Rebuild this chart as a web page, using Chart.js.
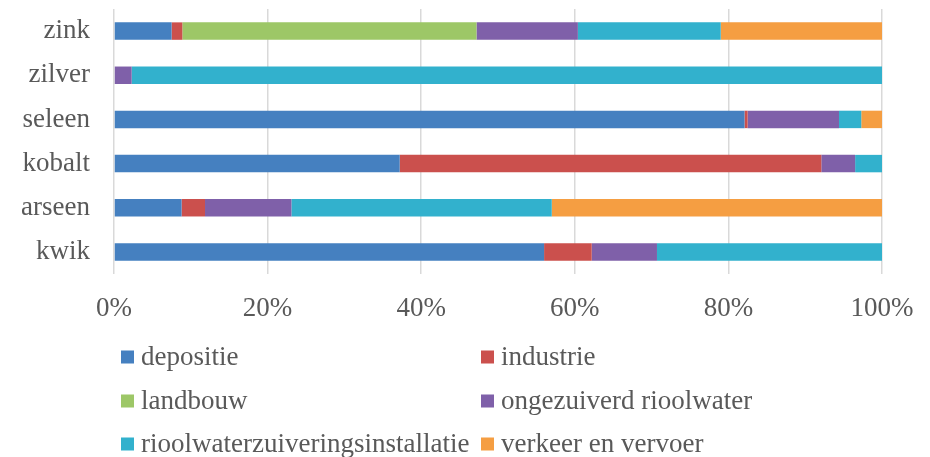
<!DOCTYPE html>
<html>
<head>
<meta charset="utf-8">
<script src="https://cdn.jsdelivr.net/npm/chart.js@4/dist/chart.umd.min.js"></script>
<style>
html,body{margin:0;padding:0;background:#fff;}
#wrap{position:relative;width:930px;height:457px;}
</style>
</head>
<body>
<div id="wrap"><canvas id="c" width="930" height="457"></canvas></div>
<script>
const categories = ['zink', 'zilver', 'seleen', 'kobalt', 'arseen', 'kwik'];
const seriesNames = ['depositie', 'industrie', 'landbouw', 'ongezuiverd rioolwater', 'rioolwaterzuiveringsinstallatie', 'verkeer en vervoer'];
const depositie   = [7.5, 0, 82.1, 37.2, 8.8, 56.0];
const industrie   = [1.4, 0, 0.4, 54.9, 3.05, 6.2];
const landbouw    = [38.3, 0, 0, 0, 0, 0];
const ongezuiverd = [13.2, 2.3, 11.9, 4.4, 11.25, 8.5];
const rwzi        = [18.6, 97.7, 2.9, 3.5, 33.9, 29.3];
const verkeer     = [21.0, 0, 2.7, 0, 43.0, 0];
const xTicks = [0, 20, 40, 60, 80, 100];

const colors = ['#4580C0', '#CB504D', '#9DC767', '#7F60A9', '#32B1CD', '#F59E42'];
const seriesValues = [depositie, industrie, landbouw, ongezuiverd, rwzi, verkeer];
const FONT = "'Liberation Serif', 'Times New Roman', serif";
const TXT = '#595959';

const legendPlugin = {
  id: 'gridLegend',
  afterDraw(chart) {
    const ctx = chart.ctx;
    const colX = [121, 481];
    const rowY = [357, 401, 444];
    ctx.save();
    ctx.font = '27px ' + FONT;
    ctx.textBaseline = 'middle';
    ctx.textAlign = 'left';
    chart.data.datasets.forEach((ds, i) => {
      const x = colX[i % 2];
      const y = rowY[Math.floor(i / 2)];
      ctx.fillStyle = ds.backgroundColor;
      ctx.fillRect(x, y - 6.5, 13, 13);
      ctx.fillStyle = TXT;
      ctx.fillText(ds.label, x + 20, y + 1);
    });
    ctx.restore();
  }
};

new Chart(document.getElementById('c'), {
  type: 'bar',
  data: {
    labels: categories,
    datasets: seriesNames.map((n, i) => ({
      label: n,
      data: seriesValues[i],
      backgroundColor: colors[i],
      borderWidth: 0,
      categoryPercentage: 1,
      barPercentage: 0.395
    }))
  },
  options: {
    indexAxis: 'y',
    responsive: false,
    animation: false,
    layout: { padding: { top: 9, right: 48, bottom: 0, left: 0 } },
    plugins: { legend: { display: false }, tooltip: { enabled: false } },
    scales: {
      x: {
        stacked: true,
        min: 0, max: 100,
        afterBuildTicks(scale) { scale.ticks = xTicks.map(v => ({ value: v })); },
        afterFit(scale) { scale.height = 183; scale.paddingLeft = 0; scale.paddingRight = 0; },
        grid: { color: '#d9d9d9', lineWidth: 1.5, drawTicks: false },
        border: { display: false },
        ticks: {
          padding: 19,
          color: TXT,
          font: { family: FONT, size: 27, lineHeight: 1.2 },
          callback: v => v + '%'
        }
      },
      y: {
        stacked: true,
        afterFit(scale) { scale.width = 114; scale.paddingTop = 0; scale.paddingBottom = 0; },
        grid: { display: false, drawTicks: false },
        border: { display: false },
        ticks: {
          padding: 24,
          color: TXT,
          font: { family: FONT, size: 27, lineHeight: 1.2 }
        }
      }
    }
  },
  plugins: [legendPlugin]
});
</script>
</body>
</html>
